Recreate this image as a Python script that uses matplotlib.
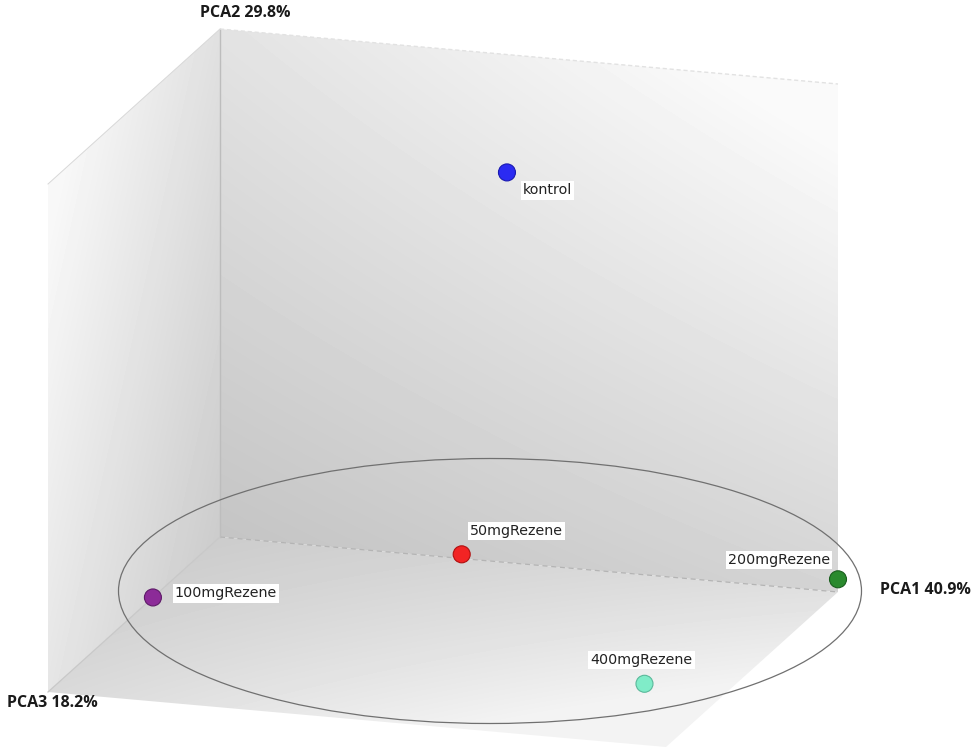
import numpy as np
import matplotlib.pyplot as plt
from matplotlib.patches import Polygon, Ellipse

# PCA scores, scaled to the box (0..1 along each axis)
groups = ['kontrol', '50mgRezene', '100mgRezene', '200mgRezene', '400mgRezene']
pca1 = [0.52, 0.405, 0.00, 1.00, 0.865]
pca2 = [0.835, 0.025, 0.00, 0.025, 0.00]
pca3 = [0.20, 0.05, 0.39, 0.00, 0.64]
colors = ['#2b2bf2', '#f22424', '#8c2b98', '#2a8a2e', '#80ecc8']
edges = ['#1a1ab0', '#b01010', '#5e1a68', '#1a5e1e', '#5ab89a']

axis_labels = ['PCA1 40.9%', 'PCA2 29.8%', 'PCA3 18.2%']

# confidence ellipse around the Rezene groups (canvas pixels)
ell_center = (490, 591)
ell_size = (743, 265)

W, H = 971, 751
O = np.array([220.0, 537.0])
e1 = np.array([618.0, 55.0])
e2 = np.array([0.0, -508.0])
e3 = np.array([-172.0, 155.0])


def project(u, v, w):
    u, v, w = np.asarray(u), np.asarray(v), np.asarray(w)
    x = O[0] + u*e1[0] + v*e2[0] + w*e3[0]
    y = O[1] + u*e1[1] + v*e2[1] + w*e3[1]
    return x, y


fig = plt.figure(figsize=(W/100, H/100), dpi=100)
ax = fig.add_axes([0, 0, 1, 1])
ax.set_xlim(0, W)
ax.set_ylim(H, 0)
ax.axis('off')

yy, xx = np.mgrid[0:H, 0:W] + 0.5


def face(corners, img, top=0.98):
    pts = np.array([project(*c) for c in corners])
    poly = Polygon(pts, closed=True, facecolor='none', edgecolor='none')
    ax.add_patch(poly)
    im = ax.imshow(np.clip(img, 0, top), cmap='gray', vmin=0, vmax=1,
                   extent=[0, W, H, 0], interpolation='bilinear', zorder=1)
    im.set_clip_path(poly)


# back wall (u, v)
u = (xx - O[0]) / e1[0]
v = (O[1] + u*e1[1] - yy) / -e2[1]
face([(0, 0, 0), (1, 0, 0), (1, 1, 0), (0, 1, 0)],
     0.77 + 0.06*u + 0.12*v + 0.05*u*v)

# left wall (w, v)
w = (O[0] - xx) / -e3[0]
v = (O[1] + w*e3[1] - yy) / -e2[1]
face([(0, 0, 0), (0, 0, 1), (0, 1, 1), (0, 1, 0)],
     0.80 + 0.10*w + 0.08*v, top=0.97)

# floor (u, w)
det = e1[0]*e3[1] - e3[0]*e1[1]
dx, dy = xx - O[0], yy - O[1]
u = (dx*e3[1] - dy*e3[0]) / det
w = (e1[0]*dy - e1[1]*dx) / det
face([(0, 0, 0), (1, 0, 0), (1, 0, 1), (0, 0, 1)],
     0.80 + 0.08*u + 0.05*w + 0.07*u*w, top=0.955)

# box edges and axes
def edge(a, b, **kw):
    x, y = project(*np.array([a, b]).T)
    ax.plot(x, y, zorder=2, **kw)


edge((0, 0, 0), (0, 1, 0), color='#bdbdbd', lw=1)
edge((0, 1, 0), (1, 1, 0), color='#e2e2e2', lw=1, ls=(0, (3, 2)))
edge((0, 1, 0), (0, 1, 1), color='#d8d8d8', lw=0.7)
edge((0, 0, 0), (1, 0, 0), color='#b4b4b4', lw=0.9, ls=(0, (4, 3)))
edge((0, 0, 0), (0, 0, 1), color='#c8c8c8', lw=0.9)

ax.add_patch(Ellipse(ell_center, ell_size[0], ell_size[1], fill=False,
                     edgecolor='#707070', lw=0.9, zorder=3))

xs, ys = project(pca1, pca2, pca3)
ax.scatter(xs, ys, s=150, c=colors, edgecolors=edges, linewidths=0.8, zorder=4)

# label placement (pixel offsets from each point)
offsets = [(16, 18, 'left'), (8, -23, 'left'), (22, -4, 'left'),
           (-8, -19, 'right'), (-54, -24, 'left')]
for g, x, y, (ox, oy, ha) in zip(groups, xs, ys, offsets):
    ax.text(x + ox, y + oy, g, ha=ha, va='center', fontsize=10.3, color='#222222',
            family='DejaVu Sans', zorder=5,
            bbox=dict(facecolor='white', edgecolor='none', pad=1.5))

bold = dict(family=['Open Sans', 'DejaVu Sans'], fontweight='bold',
            fontsize=11.5, color='#1a1a1a')
ax.text(880, 590, axis_labels[0], ha='left', va='center', **bold)
ax.text(245, 13, axis_labels[1], ha='center', va='center', **bold)
ax.text(7, 703, axis_labels[2], ha='left', va='center', **bold)

fig.savefig('out.png', dpi=100)
